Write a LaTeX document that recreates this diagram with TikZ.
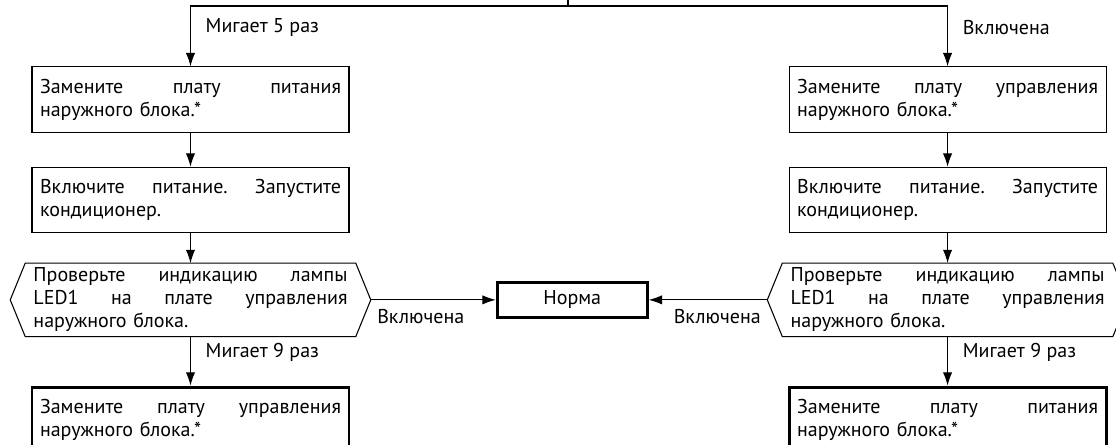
\documentclass[tikz,border=0pt]{standalone}
\usepackage{fontspec}
\setmainfont{PT Sans}
\usetikzlibrary{arrows.meta}
\usetikzlibrary{positioning}

% one justified line inside a box (align=left fixes the spaces, so free them again)
\newcommand{\jline}[1]{\makebox[\hsize][s]{\frenchspacing\spaceskip=0pt\xspaceskip=0pt #1}}

\begin{document}
\begin{tikzpicture}[x=0.75pt, y=-0.75pt, font=\fontsize{15}{17.25}\selectfont,
    stepbox/.style={rectangle, draw, line width=0.8pt, text width=225.75pt, inner xsep=6pt, minimum height=49pt, align=left},
    endbox/.style={stepbox, line width=2.2pt},
    checkbox/.style={rectangle, text width=235.5pt, inner xsep=6pt, minimum height=54pt, align=left},
    normbox/.style={rectangle, draw, line width=2.2pt, minimum width=112.5pt, minimum height=26.25pt},
    lbl/.style={inner sep=0pt},
    flow/.style={-{Latex[length=10pt, width=7pt]}, line width=0.8pt}]
    \clip (0,0) rectangle (1116,444);

    % Left branch
    \node[stepbox] (replL) at (190.5,99.5) {\jline{Замените плату питания}\\наружного блока.*};
    \node[stepbox, below=25.5pt of replL] (powerL) {\jline{Включите питание. Запустите}\\кондиционер.};
    \node[checkbox, below=22.5pt of powerL] (checkL) {\jline{Проверьте индикацию лампы}\\\jline{LED1 на плате управления}\\наружного блока.};
    \node[endbox, below=36.75pt of checkL] (finalL) {\jline{Замените плату управления}\\наружного блока.*};

    % Right branch
    \node[stepbox, right=329.25pt of replL] (replR) {\jline{Замените плату управления}\\наружного блока.*};
    \node[stepbox, below=25.5pt of replR] (powerR) {\jline{Включите питание. Запустите}\\кондиционер.};
    \node[checkbox, below=22.5pt of powerR] (checkR) {\jline{Проверьте индикацию лампы}\\\jline{LED1 на плате управления}\\наружного блока.};
    \node[endbox, below=36.75pt of checkR] (finalR) {\jline{Замените плату питания}\\наружного блока.*};

    \node[normbox, right=105pt of checkL] (norma) {Норма};

    % Hexagon outlines of the check steps
    \foreach \h in {checkL, checkR}
        \draw[line width=0.8pt] (\h.north west) -- (\h.north east) -- ([xshift=11.25pt]\h.east)
            -- (\h.south east) -- (\h.south west) -- ([xshift=-11.25pt]\h.west) -- cycle;
    \coordinate (tipL) at ([xshift=11.25pt]checkL.east);
    \coordinate (tipR) at ([xshift=-11.25pt]checkR.west);

    \coordinate (in) at (568,0);
    \coordinate (fork) at (568,6);

    % Connect nodes with arrows
    \draw[line width=0.8pt] (in) -- (fork);
    \draw[flow] (fork) -| node[lbl, right=11pt, pos=0.675] {Мигает 5 раз} (replL);
    \draw[flow] (fork) -| node[lbl, right=11pt, pos=0.675] {Включена} (replR);

    \draw[flow] (replL) -- (powerL);
    \draw[flow] (powerL) -- (checkL);
    \draw[flow] (checkL) -- node[lbl, right=11pt, pos=0.33] {Мигает 9 раз} (finalL);

    \draw[flow] (replR) -- (powerR);
    \draw[flow] (powerR) -- (checkR);
    \draw[flow] (checkR) -- node[lbl, right=11pt, pos=0.33] {Мигает 9 раз} (finalR);

    \draw[flow] (tipL) -- node[lbl, below right=6.75pt and 4.5pt, pos=0] {Включена} (norma);
    \draw[flow] (tipR) -- node[lbl, below left=6.75pt and 4.5pt, pos=0] {Включена} (norma);
\end{tikzpicture}
\end{document}
